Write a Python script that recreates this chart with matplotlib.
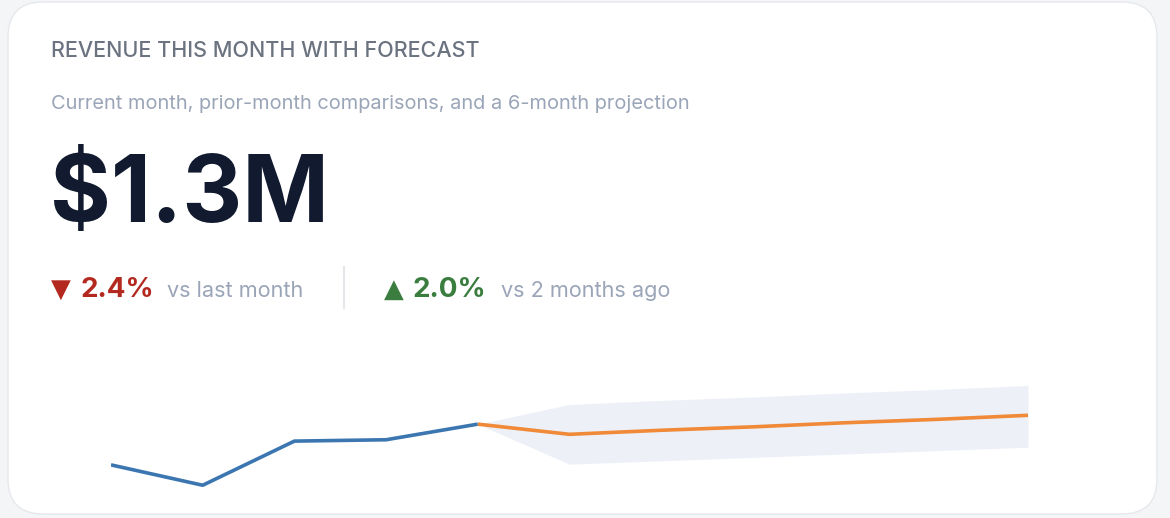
import matplotlib
matplotlib.use("Agg")
import matplotlib.pyplot as plt
from matplotlib.patches import FancyBboxPatch
from matplotlib.lines import Line2D

# ---- data ----
title = "REVENUE THIS MONTH WITH FORECAST"
subtitle = "Current month, prior-month comparisons, and a 6-month projection"
headline = "$1.3M"
delta_labels = ["2.4%", "2.0%"]
delta_texts = ["vs last month", "vs 2 months ago"]
delta_dirs = ["down", "up"]

hist_x = [0, 1, 2, 3, 4]
hist_vals = [1240, 1210, 1275, 1277, 1300]          # $K
fc_x = [4, 5, 6, 7, 8, 9, 10]
fc_vals = [1300, 1285, 1291, 1296, 1302, 1307, 1313]
fc_low = [1300, 1241, 1246, 1251, 1256, 1261, 1266]
fc_high = [1300, 1329, 1335, 1340, 1346, 1351, 1357]

W, H = 1170, 518
fig = plt.figure(figsize=(W / 100, H / 100), dpi=100)
fig.patch.set_facecolor("#f4f5f7")

def fx(px):
    return px / W

def fy(py):
    return 1 - py / H

# card
card = FancyBboxPatch((fx(8), fy(514)), fx(1157) - fx(8), fy(2) - fy(514),
                      boxstyle="round,pad=0,rounding_size=0.03",
                      transform=fig.transFigure, facecolor="white",
                      edgecolor="#e6e8ec", linewidth=1.0, mutation_aspect=W / H,
                      zorder=-10)
fig.patches.append(card)

sans = ["Inter", "DejaVu Sans"]

fig.text(fx(51), fy(57), title, fontsize=15.5, color="#6b7280",
         family=sans, va="baseline", ha="left", fontweight="medium")
fig.text(fx(51), fy(109), subtitle, fontsize=14.4, color="#9aa5b8",
         family=sans, va="baseline", ha="left")
fig.text(fx(50), fy(222), headline, fontsize=67, color="#111a2e",
         family=sans, va="baseline", ha="left", fontweight="bold")

red = "#b3291f"
green = "#3b7d3f"
gray = "#9aa5b8"

# delta 1
fig.text(fx(51), fy(297), "\u25BC", fontsize=18.5, color=red, family=["DejaVu Sans"],
         va="baseline", ha="left")
fig.text(fx(80), fy(297), delta_labels[0], fontsize=20, color=red, family=sans,
         va="baseline", ha="left", fontweight="bold")
fig.text(fx(167), fy(297), delta_texts[0], fontsize=15.6, color=gray, family=sans,
         va="baseline", ha="left")
# divider
fig.add_artist(Line2D([fx(344), fx(344)], [fy(267), fy(308)],
                      transform=fig.transFigure, color="#e3e6eb", linewidth=1.5))
# delta 2
fig.text(fx(384), fy(297), "\u25B2", fontsize=18.5, color=green, family=["DejaVu Sans"],
         va="baseline", ha="left")
fig.text(fx(412), fy(297), delta_labels[1], fontsize=20, color=green, family=sans,
         va="baseline", ha="left", fontweight="bold")
fig.text(fx(501), fy(297), delta_texts[1], fontsize=15.6, color=gray, family=sans,
         va="baseline", ha="left")

# sparkline axes
ax = fig.add_axes([fx(111), fy(490), fx(1028) - fx(111), fy(380) - fy(490)])
ax.set_xlim(0, 10)
ax.set_ylim(1203, 1365)
ax.axis("off")
ax.fill_between(fc_x, fc_low, fc_high, color="#edf0f7", linewidth=0, zorder=1)
ax.plot(hist_x, hist_vals, color="#3b76b1", linewidth=2.6, solid_capstyle="butt", zorder=3)
ax.plot(fc_x, fc_vals, color="#f08a38", linewidth=2.6, solid_capstyle="butt", zorder=3)

fig.savefig("out.png", dpi=100, facecolor=fig.get_facecolor())
